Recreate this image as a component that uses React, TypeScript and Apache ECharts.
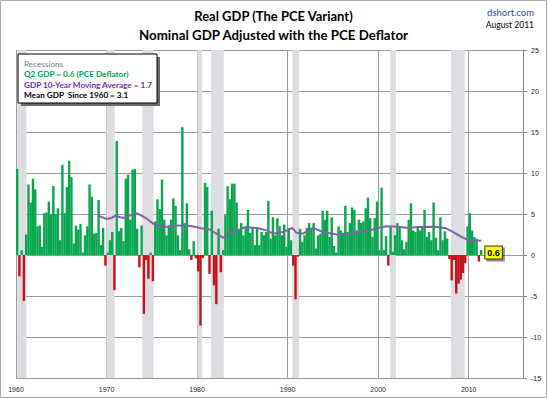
import React, { useEffect, useRef } from "react";
import * as echarts from "echarts";

// ---- data ----
const startYear = 1960;
// Quarterly real GDP growth (PCE deflator), 1960Q1 .. 2011Q2
const gdpQuarterly: number[] = [
  10.5, -2.6, 0.6, -5.6,
  2.5, 8.6, 6.4, 9.3,
  8.0, 3.5, 3.6, 1.0,
  5.1, 5.2, 6.5, 4.9,
  8.4, 5.0, 5.7, 1.8,
  11.0, 5.1, 8.3, 11.5,
  9.5, 1.4, 3.6, 3.1,
  3.8, 0.3, 2.4, 3.5,
  8.6, 7.1, 2.6, 2.7,
  6.7, 1.2, 3.3, -1.3,
  0.3, 1.8, 2.8, -4.3,
  13.9, 2.9, 3.3, 1.7,
  9.3, 9.8, 4.3, 10.4,
  10.5, 3.2, -1.5, 3.6,
  -7.2, -0.6, -2.9, 0.3,
  -3.2, 4.1, 6.8, 5.6,
  9.2, 4.3, 2.4, 3.6,
  4.3, 6.9, 6.0, 2.4,
  0.6, 15.6, 3.9, 6.3,
  0.7, -0.6, 1.7, -0.4,
  -2.0, -8.6, -0.4, 8.8,
  8.3, -2.3, 5.4, -3.7,
  -6.0, 3.2, -2.1, 0.6,
  4.9, 8.4, 6.8, 8.7,
  8.7, 6.4, 3.2, 3.9,
  2.4, 3.3, 5.5, 2.7,
  3.3, 1.2, 3.3, 1.2,
  2.8, 2.4, 2.8, 6.6,
  2.0, 4.6, 2.4, 4.5,
  3.5, 2.4, 3.7, 1.0,
  3.3, 1.8, -1.3, -5.4,
  -0.2, 3.2, 1.6, 2.4,
  3.3, 3.9, 3.3, 3.9,
  0.8, 2.4, 2.6, 5.4,
  4.3, 5.4, 2.2, 4.6,
  1.1, 0.3, 3.5, 3.0,
  2.7, 6.0, 2.8, 3.9,
  5.8, 5.5, 3.0, 4.3,
  3.9, 4.1, 5.7, 7.0,
  4.5, 2.2, 4.5, 6.5,
  0.6, 8.2, 0.6, 2.3,
  -1.3, 3.4, 0.4, 2.4,
  3.9, 3.4, 1.8, 0.7,
  1.6, 4.3, 6.3, 3.0,
  2.8, 3.3, 3.0, 3.5,
  5.5, 2.2, 2.8, 1.8,
  6.4, 2.1, 0.6, 4.6,
  1.8, 2.9, 2.0, -0.5,
  -3.1, -0.6, -4.7, -3.5,
  -3.0, -2.2, -1.0, 3.5,
  5.1, 3.0, 2.2, 2.0,
  -0.8, 0.6,
];
const latestLabel = "0.6";

// 10-year moving average
const maYears: number[] = [
  1969.0, 1969.5, 1970.0, 1970.5, 1971.0, 1971.5, 1972.0, 1972.5, 1973.0, 1973.3,
  1973.7, 1974.2, 1974.7, 1975.2, 1975.9, 1976.5, 1977.0, 1978.0, 1978.5, 1979.5,
  1980.3, 1981.4, 1982.0, 1982.9, 1983.6, 1984.5, 1985.3, 1986.6, 1987.7, 1988.4,
  1989.5, 1990.5, 1991.0, 1991.7, 1992.8, 1993.9, 1995.4, 1996.9, 1998.3, 1999.1,
  2000.0, 2000.9, 2002.2, 2003.3, 2004.4, 2006.3, 2007.4, 2008.3, 2009.2, 2010.0,
  2011.4,
];
const maValues: number[] = [
  4.8, 4.6, 4.4, 4.5, 4.8, 4.6, 4.5, 4.8, 4.9, 5.1,
  4.9, 4.6, 4.2, 3.8, 3.5, 3.4, 3.5, 3.6, 3.6, 3.5,
  3.3, 3.1, 2.7, 2.1, 2.6, 3.0, 3.4, 3.3, 3.0, 2.6,
  2.8, 3.3, 2.7, 2.6, 3.3, 2.8, 2.5, 2.6, 2.9, 3.0,
  3.3, 3.5, 3.45, 3.3, 3.4, 3.45, 3.3, 2.8, 2.2, 1.8,
  1.75,
];

const recessionStart: number[] = [1960.15, 1969.98, 1973.95, 1980.03, 1981.55, 1990.53, 2001.33, 2008.05];
const recessionEnd: number[] = [1961.15, 1970.9, 1975.2, 1980.55, 1982.95, 1991.27, 2001.95, 2009.57];

const xTickYears: number[] = [1960, 1970, 1980, 1990, 2000, 2010];

const titleLines: string[] = ["Real GDP (The PCE Variant)", "Nominal GDP Adjusted with the PCE Deflator"];
const sourceText = "dshort.com";
const dateText = "August 2011";
const legendLines: string[] = [
  "Recessions",
  "Q2 GDP = 0.6 (PCE Deflator)",
  "GDP 10-Year Moving Average = 1.7",
  "Mean GDP  Since 1960 = 3.1",
];
const legendColors: string[] = ["#7f7f7f", "#00a050", "#7030a0", "#000000"];

const GREEN = "#0aa64f";
const RED = "#c8101a";
const GRID = "#9a9a9a";
const FONT = "Lato, 'Liberation Sans', sans-serif";

export default function App() {
  const ref = useRef<HTMLDivElement>(null);

  useEffect(() => {
    const chart = echarts.init(ref.current!, null, { renderer: "svg" });

    const barData = gdpQuarterly.map((v, i) => {
      const x = startYear + i / 4 + 0.125;
      if (i === gdpQuarterly.length - 1) {
        return {
          value: [x, v],
          label: {
            show: true,
            position: "right",
            distance: 3,
            formatter: latestLabel,
            backgroundColor: "#ffff00",
            borderColor: "#333",
            borderWidth: 1,
            padding: [2, 2, 1, 2],
            fontSize: 9,
            fontWeight: "bold",
            fontFamily: "'Liberation Sans', sans-serif",
            color: "#000",
            shadowColor: "rgba(0,0,0,0.45)",
            shadowOffsetX: 2,
            shadowOffsetY: 2,
            shadowBlur: 0,
          },
        };
      }
      return { value: [x, v] };
    });

    const maData = maYears.map((x, i) => [x, maValues[i]]);

    const areas = recessionStart.map((s, i) => [{ xAxis: s }, { xAxis: recessionEnd[i] }]);

    const legendChildren: any[] = [
      { type: "rect", z: 100, shape: { x: 3, y: 3, width: 139, height: 49 }, style: { fill: "#6a6a6a" } },
      { type: "rect", z: 101, shape: { x: 0, y: 0, width: 139, height: 49 }, style: { fill: "#fff", stroke: "#000", lineWidth: 1 } },
    ];
    legendLines.forEach((t, i) => {
      legendChildren.push({
        type: "text",
        z: 102,
        x: 6,
        y: 9.5 + i * 10.6,
        style: {
          text: t,
          fill: legendColors[i],
          fontSize: 8.2,
          fontWeight: i === 0 ? "normal" : "bold",
          fontFamily: FONT,
          align: "left",
          verticalAlign: "middle",
        },
      });
    });

    const option: any = {
      animation: false,
      backgroundColor: "#fff",
      title: [
        {
          text: titleLines[0],
          left: "center",
          top: 9,
          padding: 0,
          textStyle: { fontSize: 13, fontWeight: "bold", fontFamily: FONT, color: "#000" },
        },
        {
          text: titleLines[1],
          left: "center",
          top: 28,
          padding: 0,
          textStyle: { fontSize: 13.3, fontWeight: "bold", fontFamily: FONT, color: "#000" },
        },
      ],
      grid: { left: 16, right: 24, top: 50, bottom: 20, containLabel: false },
      xAxis: {
        type: "value",
        min: 1960,
        max: 2016,
        interval: 10,
        axisLine: { show: false },
        axisTick: { show: false },
        axisLabel: {
          fontSize: 7,
          color: "#222",
          margin: 8,
          fontFamily: "'Liberation Sans', sans-serif",
          formatter: (v: number) => (xTickYears.indexOf(v) >= 0 ? String(v) : ""),
        },
        splitLine: { show: true, lineStyle: { color: GRID, width: 1 } },
      },
      yAxis: {
        type: "value",
        position: "right",
        min: -15,
        max: 25,
        interval: 5,
        axisLine: { show: true, lineStyle: { color: "#888" } },
        axisTick: { show: true, length: 4, lineStyle: { color: "#888" } },
        axisLabel: {
          fontSize: 7,
          color: "#222",
          margin: 8,
          align: "left",
          fontFamily: "'Liberation Sans', sans-serif",
        },
        splitLine: { show: true, lineStyle: { color: GRID, width: 1 } },
      },
      series: [
        {
          name: "Recessions",
          type: "line",
          data: [],
          z: 1,
          silent: true,
          markArea: {
            silent: true,
            itemStyle: { color: "#dcdce1", opacity: 1 },
            data: areas,
          },
        },
        {
          name: "GDP",
          type: "bar",
          data: barData,
          barWidth: 2.4,
          z: 3,
          itemStyle: {
            color: (p: any) => (p.value[1] >= 0 ? GREEN : RED),
          },
        },
        {
          name: "10-Year Moving Average",
          type: "line",
          data: maData,
          symbol: "none",
          z: 4,
          lineStyle: { color: "#8064a2", width: 2 },
        },
      ],
      graphic: [
        {
          type: "rect",
          z: 100,
          shape: { x: 0.5, y: 0.5, width: 546, height: 397 },
          style: { fill: "none", stroke: "#a8a8a8", lineWidth: 1 },
          silent: true,
        },
        {
          type: "text",
          z: 100,
          x: 534,
          y: 12,
          style: { text: sourceText, fill: "#1f4f8f", fontSize: 9.5, fontFamily: FONT, align: "right", verticalAlign: "middle" },
        },
        {
          type: "text",
          z: 100,
          x: 534,
          y: 24.5,
          style: { text: dateText, fill: "#000", fontSize: 8.5, fontFamily: FONT, align: "right", verticalAlign: "middle" },
        },
        { type: "group", z: 100, x: 18, y: 54, children: legendChildren },
      ],
    };

    chart.setOption(option);
    return () => chart.dispose();
  }, []);

  return (
    <div
      ref={ref}
      style={{ position: "absolute", left: 0, top: 0, width: 547, height: 398, background: "#fff" }}
    />
  );
}
